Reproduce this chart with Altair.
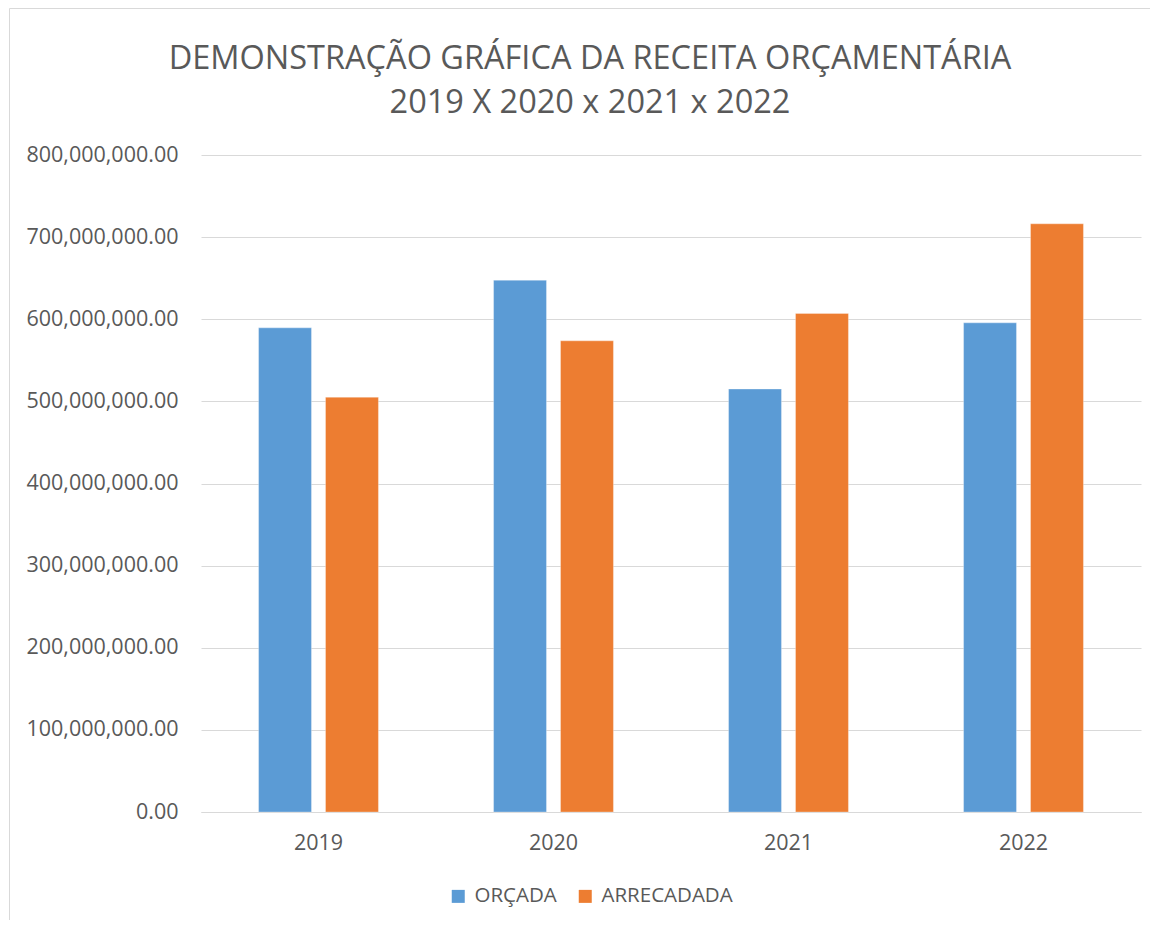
import altair as alt
import pandas as pd

years = ["2019", "2020", "2021", "2022"]
series = ["ORÇADA", "ARRECADADA"]
orcada = [589500000, 647500000, 515000000, 595600000]
arrecadada = [505000000, 573700000, 607000000, 716200000]
y_ticks = [0, 100000000, 200000000, 300000000, 400000000, 500000000, 600000000, 700000000, 800000000]
colors = ["#5B9BD5", "#ED7D31"]
title_lines = ["DEMONSTRAÇÃO GRÁFICA DA RECEITA ORÇAMENTÁRIA", "2019 X 2020 x 2021 x 2022"]

rows = []
for i, y in enumerate(years):
    rows.append({"ano": y, "serie": series[0], "valor": orcada[i]})
    rows.append({"ano": y, "serie": series[1], "valor": arrecadada[i]})
df = pd.DataFrame(rows)

FONT = "Open Sans"
TXT = "#595959"
GRID = "#d9d9d9"

bars = alt.Chart(df).mark_bar(stroke="white", strokeWidth=0.6, strokeOpacity=0.5).encode(
    x=alt.X("ano:N", sort=years,
            scale=alt.Scale(paddingInner=0.49, paddingOuter=0.245),
            axis=alt.Axis(title=None, labelAngle=0, ticks=False, domain=True,
                          domainColor=GRID, domainWidth=1, labelPadding=20,
                          labelFontSize=21.5, labelColor=TXT, labelFont=FONT, grid=False)),
    xOffset=alt.XOffset("serie:N", sort=series,
                        scale=alt.Scale(paddingInner=0.21, paddingOuter=0)),
    y=alt.Y("valor:Q",
            scale=alt.Scale(domain=[0, 800000000], nice=False),
            axis=alt.Axis(title=None, values=y_ticks, format=",.2f", ticks=False,
                          domain=False, labelPadding=23, labelFontSize=21.5,
                          labelColor=TXT, labelFont=FONT, gridColor=GRID,
                          gridWidth=1)),
    color=alt.Color("serie:N", sort=series,
                    scale=alt.Scale(domain=series, range=colors),
                    legend=alt.Legend(title=None, orient="none", legendX=247, legendY=731,
                                      direction="horizontal", symbolType="square",
                                      symbolSize=169, symbolStrokeWidth=0,
                                      labelFontSize=20.5, labelColor=TXT, labelFont=FONT,
                                      labelOffset=6, columnPadding=18)),
)

frame = alt.Chart(alt.Data(values=[{"a": 1}])).mark_rect(
    fill="white", fillOpacity=0, stroke=GRID, strokeWidth=1, clip=False
).encode(
    x=alt.value(-191.5), x2=alt.value(1200),
    y=alt.value(-146.5), y2=alt.value(900),
)

chart = alt.layer(frame, bars).properties(
    width=940,
    height=657,
    background="white",
    autosize=alt.AutoSizeParams(type="none"),
    padding={"left": 193, "top": 147, "right": 9, "bottom": 108},
    title=alt.TitleParams(text=title_lines, fontSize=32.5, lineHeight=44, color=TXT,
                          font=FONT, fontWeight="normal", anchor="middle",
                          frame="group", dx=-81, dy=148, offset=37),
).configure_view(stroke=None)

chart.save("out.html", embed_options={"renderer": "svg", "actions": False})
